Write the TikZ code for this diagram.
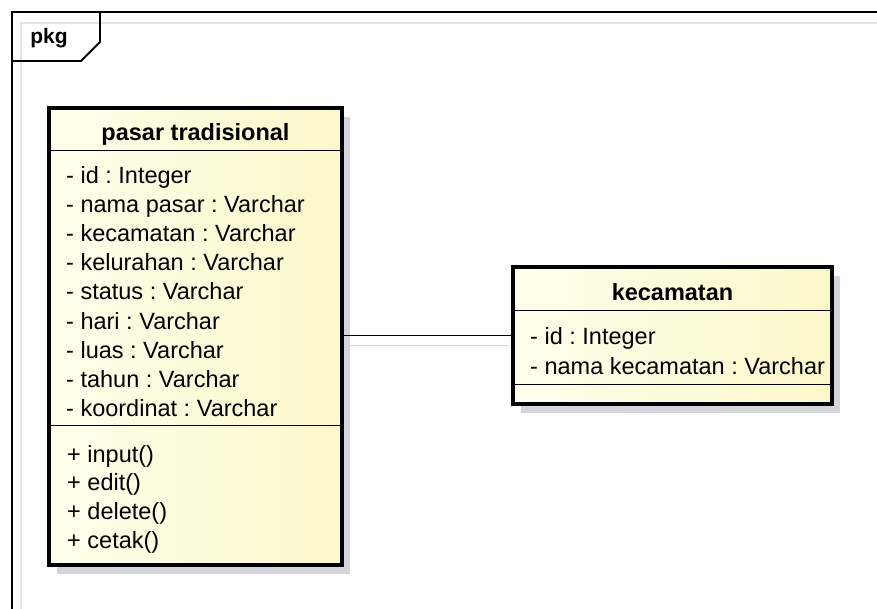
\documentclass[tikz,border=0pt]{standalone}
\usepackage{fontspec}
\setmainfont{Liberation Sans}
\frenchspacing
\usetikzlibrary{positioning,shadows}
\definecolor{umllight}{RGB}{255,255,236}
\definecolor{umlyellow}{RGB}{252,247,200}
\definecolor{umlshadow}{RGB}{212,212,218}
\definecolor{framegrey}{RGB}{228,228,228}

\begin{document}
\begin{tikzpicture}[x=1pt,y=-1pt]
\tikzset{
  classbox/.style={draw,rectangle,line width=3.2pt,inner sep=0pt,
    left color=umllight,right color=umlyellow,
    drop shadow={shadow xshift=8pt,shadow yshift=-9pt,fill=umlshadow,opacity=1}},
  divider/.style={line width=1.7pt},
  member/.style={anchor=base west,inner sep=0pt,font=\fontsize{23.5}{26}\selectfont},
  classname/.style={anchor=base,inner sep=0pt,font=\fontsize{23.5}{26}\selectfont\bfseries},
}
\useasboundingbox (0,0) rectangle (877,608);
\fill[white] (0,0) rectangle (877,608);
% package frame
\draw[framegrey,line width=1.5pt] (21,640) -- (21,23) -- (900,23);
\draw[line width=1.8pt] (12,640) -- (12,12) -- (900,12);
\draw[line width=1.8pt] (12,61) -- (81,61) -- (100,42) -- (100,12);
\node[font=\fontsize{21}{24}\selectfont\bfseries,inner sep=0pt] (pkg) at (49,38) {pkg};
% class pasar tradisional
\node[classbox,minimum width=293,minimum height=457] (pasar) at (195.5,336.5) {};
\draw[divider] ([yshift=-44pt]pasar.north west) -- ([yshift=-44pt]pasar.north east);
\draw[divider] ([yshift=-319pt]pasar.north west) -- ([yshift=-319pt]pasar.north east);
\node[classname] (pasarname) at (pasar.north |- 0,140) {pasar tradisional};
\foreach \txt [count=\i] in {- id : Integer,- nama pasar : Varchar,- kecamatan : Varchar,
    - kelurahan : Varchar,- status : Varchar,- hari : Varchar,- luas : Varchar,
    - tahun : Varchar,- koordinat : Varchar}
  \node[member] (pa\i) at (66,{183+29.2*(\i-1)}) {\txt};
\foreach \txt [count=\i] in {+ input(),+ edit(),+ delete(),+ cetak()}
  \node[member] (pm\i) at (67,{462+28.8*(\i-1)}) {\txt};
% class kecamatan
\node[classbox,minimum width=319,minimum height=137] (kec) at (672.5,335.5) {};
\draw[divider] ([yshift=-45pt]kec.north west) -- ([yshift=-45pt]kec.north east);
\draw[divider] ([yshift=-119pt]kec.north west) -- ([yshift=-119pt]kec.north east);
\node[classname] (kecname) at (kec.north |- 0,300) {kecamatan};
\node[member] (ka1) at (530,344) {- id : Integer};
\node[member] (ka2) at (530,374) {- nama kecamatan : Varchar};
% association
\draw[umlshadow,line width=1.5pt] ([yshift=-10pt,xshift=-2pt]kec.west) -- ([yshift=-10pt,xshift=2pt]kec.west -| pasar.east);
\draw[line width=1.6pt] (kec.west) -- (kec.west -| pasar.east);
\end{tikzpicture}
\end{document}
